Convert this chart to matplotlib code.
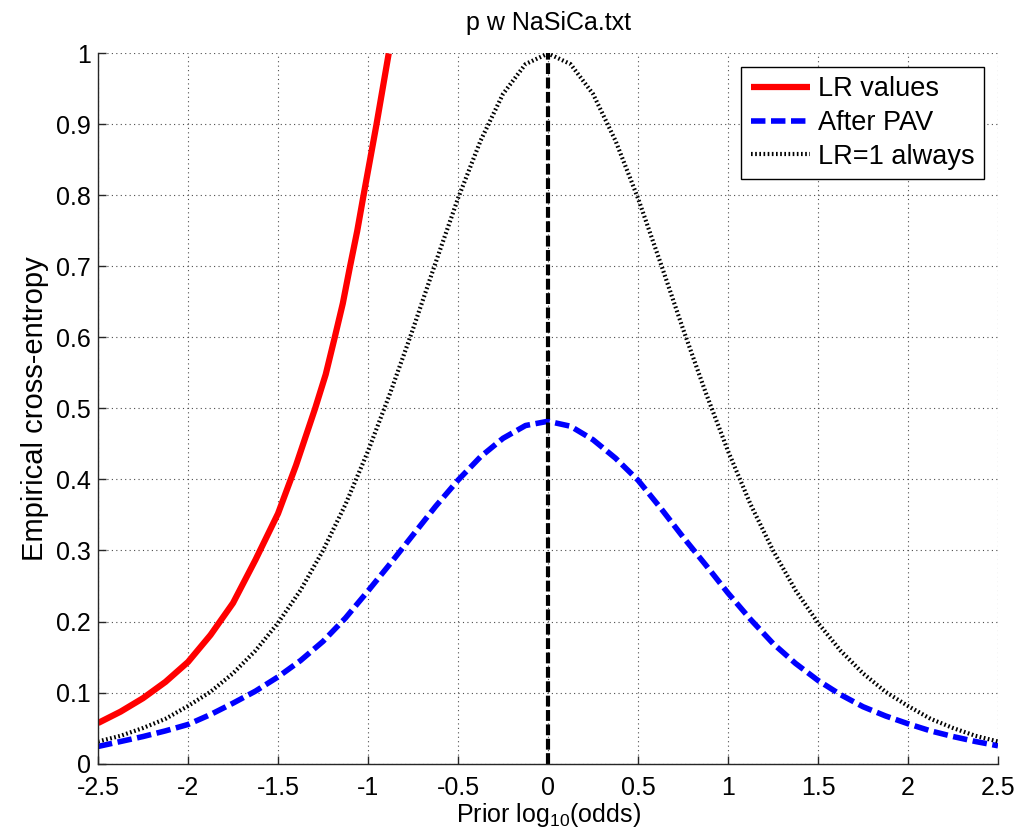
import matplotlib
matplotlib.use("Agg")
import matplotlib.pyplot as plt
import numpy as np

# curves
lr_x = [-2.5, -2.375, -2.25, -2.125, -2.0, -1.875, -1.75, -1.625, -1.5, -1.4,
        -1.294, -1.235, -1.185, -1.14, -1.10, -1.06, -1.025, -0.953, -0.885]
lr_y = [0.057, 0.073, 0.092, 0.115, 0.143, 0.181, 0.226, 0.287, 0.352, 0.42,
        0.5, 0.548, 0.6, 0.648, 0.7, 0.75, 0.8, 0.9, 1.0]

pav_x = [-2.5, -2.375, -2.25, -2.125, -2.0, -1.875, -1.75, -1.625, -1.5, -1.375,
         -1.25, -1.125, -1.0, -0.875, -0.75, -0.625, -0.5, -0.375, -0.25, -0.125,
         0.0, 0.125, 0.25, 0.375, 0.5, 0.625, 0.75, 0.875, 1.0, 1.125,
         1.25, 1.375, 1.5, 1.625, 1.75, 1.875, 2.0, 2.125, 2.25, 2.375, 2.5]
pav_y = [0.024, 0.031, 0.038, 0.046, 0.055, 0.069, 0.085, 0.102, 0.122, 0.145,
         0.172, 0.205, 0.243, 0.282, 0.322, 0.362, 0.399, 0.432, 0.458, 0.476,
         0.482, 0.475, 0.456, 0.430, 0.399, 0.360, 0.319, 0.280, 0.240, 0.203,
         0.169, 0.141, 0.117, 0.097, 0.080, 0.067, 0.056, 0.046, 0.038, 0.031, 0.025]

neutral_x = [-2.5, -2.375, -2.25, -2.125, -2.0, -1.875, -1.75, -1.625, -1.5, -1.375,
             -1.25, -1.125, -1.0, -0.875, -0.75, -0.625, -0.5, -0.375, -0.25, -0.125,
             0.0, 0.125, 0.25, 0.375, 0.5, 0.625, 0.75, 0.875, 1.0, 1.125,
             1.25, 1.375, 1.5, 1.625, 1.75, 1.875, 2.0, 2.125, 2.25, 2.375, 2.5]
neutral_y = [0.031, 0.039, 0.050, 0.063, 0.081, 0.101, 0.127, 0.159, 0.198, 0.244,
             0.300, 0.365, 0.440, 0.523, 0.612, 0.705, 0.796, 0.877, 0.943, 0.985,
             1.000, 0.985, 0.943, 0.877, 0.796, 0.705, 0.612, 0.523, 0.440, 0.365,
             0.300, 0.244, 0.198, 0.159, 0.127, 0.101, 0.081, 0.063, 0.050, 0.039, 0.031]

x_ticks = [-2.5, -2, -1.5, -1, -0.5, 0, 0.5, 1, 1.5, 2, 2.5]
y_ticks = [0, 0.1, 0.2, 0.3, 0.4, 0.5, 0.6, 0.7, 0.8, 0.9, 1]

plt.rcParams['font.family'] = ['Liberation Sans', 'DejaVu Sans']
plt.rcParams['mathtext.fontset'] = 'custom'
plt.rcParams['mathtext.rm'] = 'Liberation Sans'
plt.rcParams['axes.unicode_minus'] = False

fig = plt.figure(figsize=(10.21, 8.35), dpi=100)
ax = fig.add_axes([0.096, 0.0856, 0.8815, 0.8504])

ax.plot(lr_x, lr_y, color='red', lw=4.5, label='LR values', solid_capstyle='butt')
ax.plot(pav_x, pav_y, color='blue', lw=4, dashes=(2.6, 1.0), label='After PAV')
ax.plot(neutral_x, neutral_y, color='black', lw=3, dashes=(0.4, 0.6),
        label='LR=1 always')
ax.plot([0, 0], [0, 1], color='black', lw=3, dashes=(2.6, 0.85))

ax.set_xlim(-2.5, 2.5)
ax.set_ylim(0, 1)
ax.set_xticks(x_ticks)
ax.set_yticks(y_ticks)
ax.set_xticklabels(['%g' % v for v in x_ticks])
ax.set_yticklabels(['%g' % v for v in y_ticks])
ax.grid(True, linestyle=(0, (1, 3)), color='0.3', lw=0.8)
ax.set_axisbelow(True)

for s in ['top', 'right']:
    ax.spines[s].set_visible(False)
for s in ['left', 'bottom']:
    ax.spines[s].set_linewidth(1.0)
    ax.spines[s].set_color('0.15')

ax.tick_params(direction='in', length=6, width=1, labelsize=18, color='0.15')
ax.tick_params(axis='x', pad=9)
ax.tick_params(axis='y', pad=5)

ax.set_xlabel(r'Prior log$_{\mathregular{10}}$(odds)', fontsize=18, labelpad=1)
ax.set_ylabel('Empirical cross-entropy', fontsize=21, labelpad=5)
ax.set_title('p w NaSiCa.txt', fontsize=18, pad=17)

leg = ax.legend(loc='upper right', fontsize=19.5, fancybox=False, framealpha=1,
                edgecolor='black', handlelength=2.2, handletextpad=0.3,
                labelspacing=0.28, borderpad=0.35, borderaxespad=0.5)
leg.get_frame().set_linewidth(1.0)

fig.savefig('out.png', dpi=100)
